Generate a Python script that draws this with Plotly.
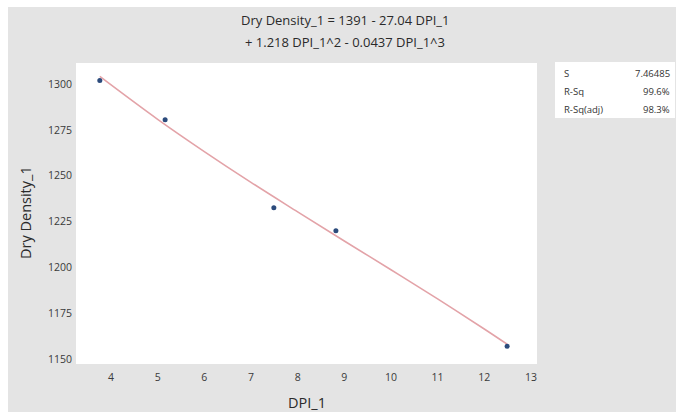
import plotly.graph_objects as go

# Observed data
dpi = [3.76, 5.16, 7.49, 8.82, 12.49]
dry_density = [1302.0, 1280.5, 1232.5, 1220.0, 1157.0]

# Fitted cubic regression curve
fit_x = [3.76, 5.0, 6.0, 7.0, 8.0, 9.0, 10.0, 11.0, 12.0, 12.49]
fit_y = [1304.2, 1280.8, 1263.2, 1246.4, 1230.3, 1214.4, 1198.7, 1182.8, 1166.4, 1158.1]

title_lines = ["Dry Density_1 = 1391 - 27.04 DPI_1", "+ 1.218 DPI_1^2 - 0.0437 DPI_1^3"]
x_title = "DPI_1"
y_title = "Dry Density_1"
stat_names = ["S", "R-Sq", "R-Sq(adj)"]
stat_values = ["7.46485", "99.6%", "98.3%"]

x_ticks = [4, 5, 6, 7, 8, 9, 10, 11, 12, 13]
y_ticks = [1150, 1175, 1200, 1225, 1250, 1275, 1300]

W, H = 676, 412
L, R, T, B = 76, 139, 63, 48
pw, ph = W - L - R, H - T - B

def px(x):
    return (x - L) / pw

def py(y):
    return (H - B - y) / ph

FONT = "Open Sans"

fig = go.Figure()
fig.add_trace(go.Scatter(x=fit_x, y=fit_y, mode="lines",
                         line=dict(color="#e3a3a8", width=1.6, shape="spline"),
                         hoverinfo="skip", showlegend=False))
fig.add_trace(go.Scatter(x=dpi, y=dry_density, mode="markers",
                         marker=dict(color="#2c4b7c", size=5), showlegend=False))

shapes = [
    # white image border strips
    dict(type="rect", xref="paper", yref="paper", x0=px(0), x1=px(W), y0=py(0), y1=py(7),
         fillcolor="white", line=dict(width=0), layer="above"),
    dict(type="rect", xref="paper", yref="paper", x0=px(0), x1=px(8), y0=py(H), y1=py(0),
         fillcolor="white", line=dict(width=0), layer="above"),
    # stats box
    dict(type="rect", xref="paper", yref="paper", x0=px(555), x1=px(675), y0=py(118), y1=py(62),
         fillcolor="white", line=dict(width=0), layer="above"),
]

annotations = []
for i, t in enumerate(title_lines):
    annotations.append(dict(text=t, xref="paper", yref="paper", x=px(345), y=py(20 + 22 * i),
                            showarrow=False, xanchor="center", yanchor="middle",
                            font=dict(family=FONT, size=13, color="#2a2a2a")))
annotations.append(dict(text=x_title, xref="paper", yref="paper", x=px(307), y=py(402),
                        showarrow=False, xanchor="center", yanchor="middle",
                        font=dict(family=FONT, size=14.5, color="#2a2a2a")))
annotations.append(dict(text=y_title, xref="paper", yref="paper", x=px(25), y=py(213),
                        showarrow=False, xanchor="center", yanchor="middle", textangle=-90,
                        font=dict(family=FONT, size=14.5, color="#2a2a2a")))
for i, (n, v) in enumerate(zip(stat_names, stat_values)):
    yy = py(73 + 18 * i)
    annotations.append(dict(text=n, xref="paper", yref="paper", x=px(562), y=yy,
                            showarrow=False, xanchor="left", yanchor="middle",
                            font=dict(family=FONT, size=9.5, color="#333333")))
    annotations.append(dict(text=v, xref="paper", yref="paper", x=px(672), y=yy,
                            showarrow=False, xanchor="right", yanchor="middle",
                            font=dict(family=FONT, size=9.5, color="#333333")))

fig.update_layout(
    width=W, height=H,
    margin=dict(l=L, r=R, t=T, b=B),
    paper_bgcolor="#e4e4e4",
    plot_bgcolor="white",
    shapes=shapes,
    annotations=annotations,
    font=dict(family=FONT, color="#333333"),
)
fig.update_xaxes(range=[3.25, 13.13], tickvals=x_ticks, showgrid=False, zeroline=False,
                 showline=False, ticks="", automargin=False, ticklabelstandoff=5,
                 tickfont=dict(size=10.5, color="#3a3a3a"))
fig.update_yaxes(range=[1147.3, 1311.5], tickvals=y_ticks, showgrid=False, zeroline=False,
                 showline=False, ticks="", automargin=False, ticklabelstandoff=3,
                 tickfont=dict(size=10.5, color="#3a3a3a"))

fig.write_html("out.html")
